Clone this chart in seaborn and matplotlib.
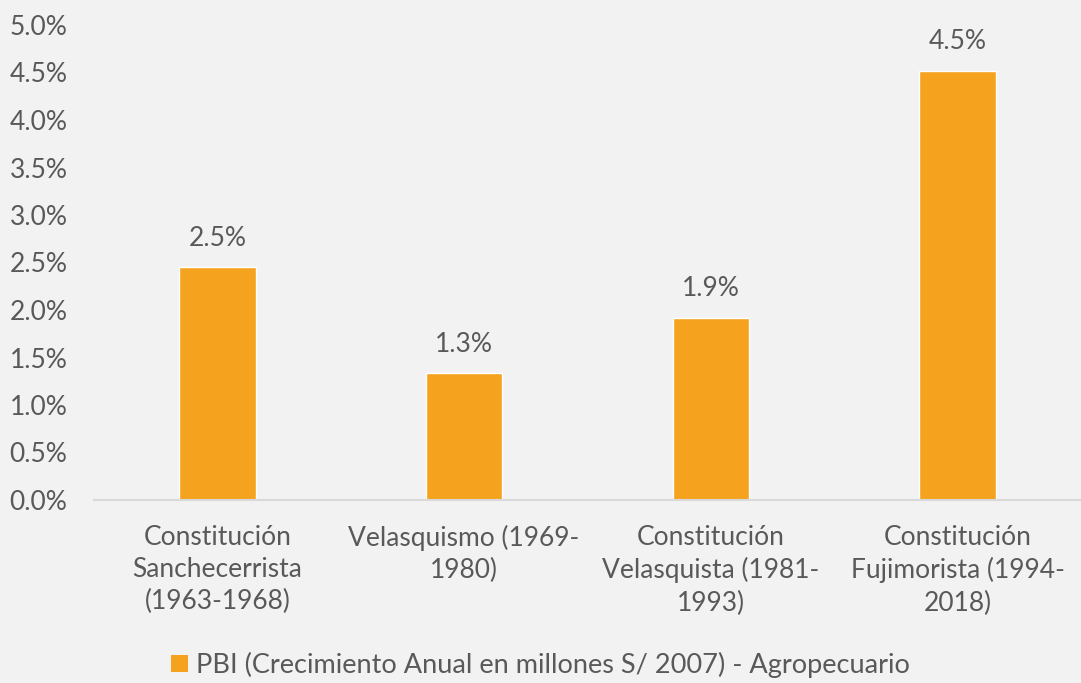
import pandas as pd
import matplotlib.pyplot as plt
import seaborn as sns
from matplotlib.ticker import PercentFormatter
from matplotlib.patches import Patch

# Data
periods = [
    "Constitución\nSanchecerrista\n(1963-1968)",
    "Velasquismo (1969-\n1980)",
    "Constitución\nVelasquista (1981-\n1993)",
    "Constitución\nFujimorista (1994-\n2018)",
]
growth = [2.45, 1.34, 1.92, 4.52]
labels = ["2.5%", "1.3%", "1.9%", "4.5%"]
series_name = "PBI (Crecimiento Anual en millones S/ 2007) - Agropecuario"

df = pd.DataFrame({"periodo": periods, "crecimiento": growth})

bg = "#F2F2F2"
bar_color = "#F5A31F"
text_color = "#595959"

sns.set_theme(style="white")
plt.rcParams["font.family"] = ["Lato", "DejaVu Sans"]

fig = plt.figure(figsize=(10.81, 6.83), dpi=100, facecolor=bg)
ax = fig.add_axes([94 / 1081, 1 - 500 / 683, 1 - 94 / 1081, 475 / 683])
ax.set_facecolor(bg)

sns.barplot(data=df, x="periodo", y="crecimiento", color=bar_color,
            width=0.31, saturation=1, ax=ax)

for i, (v, lab) in enumerate(zip(growth, labels)):
    ax.text(i, v + 0.17, lab, ha="center", va="bottom", fontsize=19, color=text_color)

ax.set_ylim(0, 5.0)
ax.set_xlim(-0.5, 3.5)
ax.set_yticks([i * 0.5 for i in range(11)])
ax.yaxis.set_major_formatter(PercentFormatter(decimals=1))
ax.set_xlabel("")
ax.set_ylabel("")
ax.tick_params(axis="y", labelsize=19, colors=text_color, length=0, pad=19)
ax.tick_params(axis="x", labelsize=19, colors=text_color, length=0, pad=18)
for t in ax.get_xticklabels():
    t.set_linespacing(1.35)

for s in ["top", "right", "left"]:
    ax.spines[s].set_visible(False)
ax.spines["bottom"].set_color("#D9D9D9")
ax.spines["bottom"].set_linewidth(1.5)

handle = Patch(facecolor=bar_color, edgecolor="none")
fig.legend([handle], [series_name], loc="center", bbox_to_anchor=(0.5, 1 - 665 / 683),
           frameon=False, fontsize=19.5, labelcolor=text_color,
           handlelength=0.6, handleheight=0.6, handletextpad=0.3)

fig.savefig("out.png", dpi=100, facecolor=bg)
